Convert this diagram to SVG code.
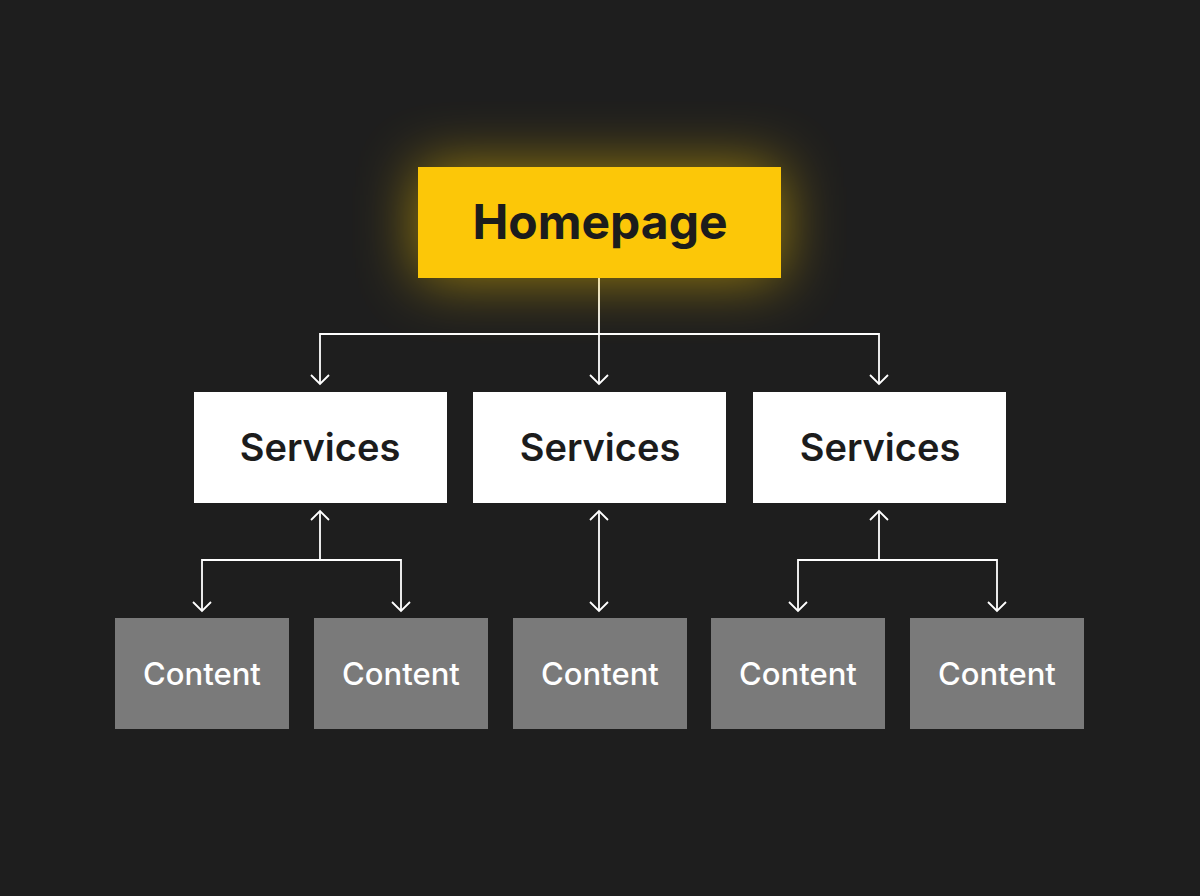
<svg xmlns="http://www.w3.org/2000/svg" width="1200" height="896" viewBox="0 0 1200 896">
<defs>
<filter id="glow" x="-60%" y="-100%" width="220%" height="300%">
<feGaussianBlur stdDeviation="30"/>
</filter>
<marker id="arr" viewBox="0 0 20 20" refX="10" refY="10" markerWidth="20" markerHeight="20" markerUnits="userSpaceOnUse" orient="auto-start-reverse">
<path d="M1,1 L10,10 L1,19" fill="none" stroke="#ffffff" stroke-width="1.8"/>
</marker>
<style>
.conn{fill:none;stroke:#ffffff;stroke-width:1.8}
.svc{fill:#ffffff}
.cnt{fill:#7a7a7a}
.t-home{font-family:Inter,"Liberation Sans",sans-serif;font-weight:700;font-size:48px;fill:#1c1c1c;text-anchor:middle}
.t-svc{font-family:Inter,"Liberation Sans",sans-serif;font-weight:600;font-size:38px;fill:#1c1c1c;text-anchor:middle}
.t-cnt{font-family:Inter,"Liberation Sans",sans-serif;font-weight:500;font-size:31px;fill:#ffffff;text-anchor:middle}
</style>
</defs>
<rect width="1200" height="896" fill="#1e1e1e"/>
<g id="connectors">
<path class="conn" d="M599,278 V384" marker-end="url(#arr)"/>
<path class="conn" d="M320,384 V334 H879 V384" marker-start="url(#arr)" marker-end="url(#arr)"/>
<path class="conn" d="M320,511 V560"  marker-start="url(#arr)"/>
<path class="conn" d="M202,611 V560 H401 V611" marker-start="url(#arr)" marker-end="url(#arr)"/>
<path class="conn" d="M599,511 V611" marker-start="url(#arr)" marker-end="url(#arr)"/>
<path class="conn" d="M879,511 V560" marker-start="url(#arr)"/>
<path class="conn" d="M798,611 V560 H997 V611" marker-start="url(#arr)" marker-end="url(#arr)"/>
</g>
<g id="homepage">
<rect x="418" y="167" width="363" height="111" fill="#f5c400" opacity="0.6" filter="url(#glow)"/>
<rect x="418" y="167" width="363" height="111" fill="#fcc708"/>
<text class="t-home" x="600" y="239">Homepage</text>
</g>
<g id="services1"><rect class="svc" x="194" y="392" width="253" height="111"/><text class="t-svc" x="320" y="461">Services</text></g>
<g id="services2"><rect class="svc" x="473" y="392" width="253" height="111"/><text class="t-svc" x="600" y="461">Services</text></g>
<g id="services3"><rect class="svc" x="753" y="392" width="253" height="111"/><text class="t-svc" x="880" y="461">Services</text></g>
<g id="content1"><rect class="cnt" x="115" y="618" width="174" height="111"/><text class="t-cnt" x="202" y="685">Content</text></g>
<g id="content2"><rect class="cnt" x="314" y="618" width="174" height="111"/><text class="t-cnt" x="401" y="685">Content</text></g>
<g id="content3"><rect class="cnt" x="513" y="618" width="174" height="111"/><text class="t-cnt" x="600" y="685">Content</text></g>
<g id="content4"><rect class="cnt" x="711" y="618" width="174" height="111"/><text class="t-cnt" x="798" y="685">Content</text></g>
<g id="content5"><rect class="cnt" x="910" y="618" width="174" height="111"/><text class="t-cnt" x="997" y="685">Content</text></g>
</svg>
